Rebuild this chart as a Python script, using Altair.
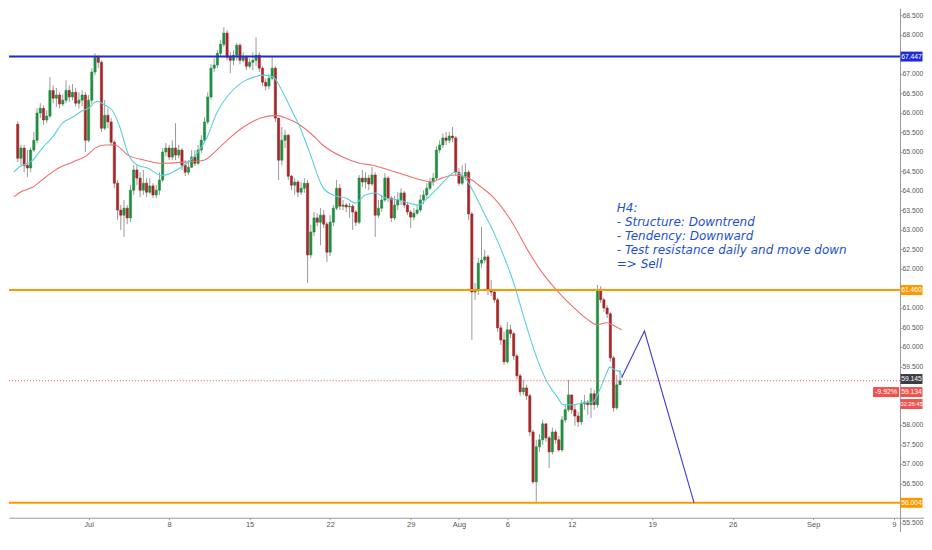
import altair as alt
import pandas as pd

# ---------------- data ----------------
first_open = 65.69
close = [65.77, 65.61, 65.71, 64.84, 65.10, 64.66, 64.59, 65.05, 65.30, 66.00,
         66.12, 65.82, 65.92, 66.58, 66.38, 66.46, 66.23, 66.33, 66.58, 66.41,
         66.53, 66.25, 66.33, 66.46, 65.30, 66.33, 67.05, 67.43, 67.30, 65.61,
         65.94, 65.77, 65.25, 64.20, 63.51, 63.38, 63.56, 63.31, 64.02, 64.54,
         64.33, 64.02, 64.20, 63.97, 64.13, 63.90, 64.02, 64.28, 65.00, 65.10,
         64.87, 65.10, 64.92, 65.05, 64.66, 64.48, 64.61, 64.87, 64.71, 65.05,
         65.30, 65.77, 66.41, 67.15, 67.23, 67.53, 67.76, 68.05, 67.43, 67.35,
         67.48, 67.74, 67.35, 67.43, 67.20, 67.30, 67.35, 67.48, 67.15, 66.79,
         66.69, 66.89, 67.15, 65.87, 64.79, 65.30, 65.43, 64.38, 64.15, 64.23,
         63.97, 64.07, 64.20, 62.36, 62.95, 63.31, 63.20, 63.38, 63.15, 62.43,
         63.20, 63.56, 64.07, 63.61, 63.64, 63.59, 63.61, 63.46, 63.20, 64.33,
         64.23, 64.33, 64.18, 64.41, 63.38, 63.56, 63.77, 64.33, 63.82, 63.31,
         63.64, 63.77, 63.95, 63.64, 63.46, 63.33, 63.43, 63.51, 63.77, 63.90,
         64.07, 64.23, 64.33, 65.05, 65.18, 65.36, 65.30, 65.41, 65.36, 64.48,
         64.20, 64.38, 64.48, 63.41, 61.41, 61.46, 62.15, 62.23, 62.31, 61.46,
         61.41, 61.21, 60.49, 60.18, 59.62, 60.44, 60.34, 59.77, 59.26, 58.85,
         58.95, 58.75, 57.82, 56.54, 57.44, 57.62, 58.03, 57.67, 57.31, 57.82,
         57.62, 57.36, 58.13, 58.39, 58.77, 58.39, 58.23, 58.08, 58.54, 58.59,
         58.52, 58.80, 58.52, 61.46, 61.21, 61.00, 60.85, 59.72, 58.44, 59.03,
         59.134]
high = [65.89, 65.87, 65.87, 65.79, 65.18, 65.18, 65.05, 65.12, 65.51, 66.12,
        66.25, 66.20, 66.07, 66.92, 66.71, 66.64, 66.53, 66.48, 66.84, 66.71,
        66.74, 66.64, 66.53, 66.58, 66.53, 66.46, 67.15, 67.53, 67.48, 67.35,
        66.33, 66.12, 65.87, 65.30, 64.28, 63.64, 63.77, 63.64, 64.15, 64.66,
        64.66, 64.48, 64.54, 64.33, 64.33, 64.20, 64.15, 64.48, 65.10, 65.23,
        65.18, 65.30, 65.74, 65.18, 65.10, 64.79, 64.79, 65.05, 65.05, 65.18,
        65.43, 65.89, 66.53, 67.25, 67.40, 67.61, 67.87, 68.20, 68.12, 67.56,
        67.61, 67.79, 67.79, 67.56, 67.48, 67.40, 67.56, 67.94, 67.56, 67.20,
        66.89, 66.99, 67.43, 67.20, 65.87, 65.64, 65.56, 65.46, 64.41, 64.33,
        64.28, 64.23, 64.33, 64.28, 63.13, 63.46, 63.43, 63.56, 63.51, 63.20,
        63.38, 63.64, 64.28, 64.18, 63.77, 63.69, 63.69, 63.66, 63.51, 64.41,
        64.54, 64.48, 64.41, 64.61, 64.48, 63.77, 63.90, 64.46, 64.38, 63.87,
        63.87, 63.97, 64.07, 64.00, 63.72, 63.51, 63.56, 63.64, 63.90, 64.02,
        64.20, 64.33, 64.46, 65.15, 65.30, 65.48, 65.51, 65.51, 65.64, 65.41,
        64.59, 64.66, 64.71, 64.54, 63.46, 61.64, 62.28, 63.08, 62.49, 62.36,
        61.72, 61.46, 61.26, 60.57, 60.39, 60.64, 60.57, 60.39, 59.82, 59.31,
        59.16, 59.03, 58.80, 57.88, 57.62, 57.77, 58.13, 58.03, 57.72, 57.93,
        57.88, 57.72, 58.23, 58.52, 59.16, 58.77, 58.54, 58.34, 58.64, 58.77,
        58.64, 58.95, 58.90, 61.59, 61.56, 61.26, 61.08, 60.90, 59.77, 59.28,
        59.41]
low = [65.56, 65.48, 65.53, 64.74, 64.66, 64.48, 64.36, 64.48, 65.00, 65.23,
       65.87, 65.69, 65.74, 65.87, 66.25, 66.15, 66.12, 66.17, 66.25, 66.28,
       66.33, 66.17, 66.12, 66.17, 65.00, 65.25, 66.23, 66.97, 67.15, 65.51,
       65.56, 65.61, 65.18, 64.07, 63.25, 63.00, 62.82, 63.15, 63.20, 63.90,
       64.15, 63.84, 63.90, 63.84, 63.92, 63.82, 63.82, 63.90, 64.23, 64.89,
       64.79, 64.79, 64.79, 64.84, 64.54, 64.38, 64.41, 64.59, 64.64, 64.66,
       64.97, 65.25, 65.71, 66.35, 67.05, 67.15, 67.46, 67.69, 67.35, 67.02,
       67.23, 67.35, 67.25, 67.30, 67.10, 67.15, 67.10, 67.20, 67.05, 66.69,
       66.58, 66.61, 66.84, 65.77, 64.28, 64.66, 65.10, 64.28, 64.02, 63.90,
       63.84, 63.90, 63.95, 61.64, 62.28, 62.84, 63.10, 62.61, 63.05, 62.18,
       62.33, 63.10, 63.51, 63.51, 63.51, 63.46, 63.31, 63.00, 63.10, 63.15,
       64.10, 64.07, 64.02, 64.13, 62.82, 63.31, 63.46, 63.72, 63.72, 63.20,
       63.25, 63.51, 63.64, 63.56, 63.38, 63.05, 63.25, 63.38, 63.46, 63.66,
       63.82, 64.02, 64.13, 64.28, 64.97, 65.10, 65.18, 65.23, 65.25, 64.38,
       64.13, 64.15, 64.28, 63.25, 60.18, 61.21, 61.33, 62.03, 62.15, 61.33,
       61.31, 61.13, 60.39, 60.05, 59.54, 59.57, 60.23, 59.67, 59.16, 58.75,
       58.77, 58.64, 57.72, 56.49, 56.03, 57.31, 57.49, 57.57, 56.90, 57.24,
       57.52, 57.31, 57.31, 58.06, 58.34, 58.29, 57.98, 57.95, 58.00, 58.39,
       58.26, 58.18, 58.39, 58.44, 61.13, 60.90, 60.74, 59.62, 58.34, 58.39,
       59.03]

cyan_t = [1.84, 3.4, 7.7, 10.8, 13.8, 16.9, 20.0, 23.4, 24.9, 27.7, 30.1, 32.3,
          34.7, 37.2, 40.3, 43.3, 47.6, 53.8, 58.7, 61.8, 64.8, 67.9, 72.2, 76.2,
          79.3, 82.3, 84.5, 87.6, 90.6, 93.7, 97.7, 100.8, 104.8, 107.9, 110.9,
          114.0, 117.1, 121.4, 124.4, 127.5, 130.6, 133.7, 136.7, 138.6, 141.6,
          144.7, 147.8, 150.9, 154.0, 157.0, 160.1, 164.4, 167.5, 170.5, 172.4,
          175.4, 178.5, 181.6, 183.7, 185.9, 186.8, 188.4, 189.9, 190.8]
cyan_v = [64.49, 64.61, 64.79, 65.12, 65.38, 65.74, 65.89, 66.07, 66.12, 66.30,
          66.20, 66.07, 65.64, 64.97, 64.66, 64.59, 64.40, 64.61, 64.97, 65.38,
          66.00, 66.41, 66.76, 66.92, 66.97, 66.92, 66.66, 66.15, 65.64, 64.97,
          64.10, 63.90, 63.82, 63.69, 63.90, 63.95, 63.82, 63.77, 63.69, 63.64,
          63.84, 64.10, 64.36, 64.48, 64.36, 63.95, 63.43, 62.92, 62.31, 61.64,
          60.77, 59.67, 59.08, 58.72, 58.52, 58.52, 58.57, 58.59, 58.90, 59.34,
          59.49, 59.41, 59.36, 59.23]
red_t = [1.84, 3.4, 7.7, 11.7, 15.7, 20.0, 24.6, 27.0, 30.1, 33.2, 37.2, 42.4, 47.6,
         54.7, 60.8, 64.8, 69.1, 74.1, 78.4, 83.0, 86.3, 90.6, 94.6, 97.7, 103.9,
         109.1, 113.1, 118.3, 123.2, 128.4, 131.5, 134.6, 138.6, 142.9, 146.9,
         150.9, 156.1, 161.3, 165.3, 170.5, 175.4, 179.7, 182.8, 185.9, 187.5, 190.5]
red_v = [63.85, 63.95, 64.10, 64.36, 64.59, 64.74, 64.92, 65.10, 65.18, 65.18, 64.92,
         64.79, 64.71, 64.74, 64.79, 65.05, 65.38, 65.69, 65.87, 65.94, 65.87, 65.69,
         65.43, 65.18, 64.87, 64.71, 64.66, 64.54, 64.41, 64.28, 64.23, 64.33, 64.41,
         64.33, 64.10, 63.82, 63.25, 62.49, 61.97, 61.44, 61.03, 60.72, 60.57, 60.62,
         60.57, 60.44]
proj_t = [190.5, 197.6, 213.0]
proj_v = [59.21, 60.41, 56.00]

res_level = 67.447
mid_level = 61.460
sup_level = 56.004
last_price = 59.134

# price labels that the reference shows (others are hidden behind price tags)
y_ticks = [55.5, 56.5, 57.0, 57.5, 58.0, 59.5, 60.0, 60.5, 61.0, 62.0, 62.5,
           63.0, 63.5, 64.0, 64.5, 65.0, 65.5, 66.0, 66.5, 67.0, 68.0, 68.5]
date_ticks = [25, 50, 75, 100, 125, 140, 155, 175, 200, 225, 250, 275]
date_labels = ["Jul", "8", "15", "22", "29", "Aug", "6", "12", "19", "26", "Sep", "9"]

note_lines = ["H4:", "- Structure: Downtrend", "- Tendency: Downward",
              "- Test resistance daily and move down", "=> Sell"]

tag_text = ["67.447", "61.460", "59.145", "59.134", "02:26:45", "56.004"]
tag_price = [67.447, 61.460, 59.145, 59.134, 59.134, 56.004]
tag_color = ["#1f2bd6", "#ff9800", "#3a3d45", "#ef5350", "#ef5350", "#ff9800"]
tag_dy = [0, 0, -1.3, 11.3, 23.3, 0]

# ---------------- layout ----------------
W, H = 916, 524          # plot area (page x 8..924, page y 8..532)
AX = 892                 # right price axis position inside the plot (page x 900)
XAX_OFF = -14            # time axis drawn inside the plot bottom
x_dom = [1.84, 282.84]
y_dom = [55.263, 68.685]
FIRST_VISIBLE = 3        # candles left of the plot edge are not drawn
xs = alt.Scale(domain=x_dom, nice=False, zero=False)
ys = alt.Scale(domain=y_dom, nice=False, zero=False)
GREEN, RED, WICK = "#1f8f3f", "#a3282a", "#9a9a9a"
FONT = "Liberation Sans"

opens = [first_open] + close[:-1]
candles = pd.DataFrame({"i": list(range(len(close))), "o": opens, "c": close,
                        "h": high, "l": low})

label_expr = " : ".join(f"datum.value == {v} ? '{l}'"
                        for v, l in zip(date_ticks, date_labels)) + " : ''"
x_axis = alt.Axis(values=date_ticks, labelExpr=label_expr, title=None, grid=False,
                  offset=XAX_OFF, domainColor="#9a9a9a", tickColor="#9a9a9a",
                  tickSize=2, labelFont=FONT, labelFontSize=7.5,
                  labelColor="#555555", labelPadding=1)
y_axis = alt.Axis(orient="right", offset=AX - W, values=y_ticks, format=".3f",
                  title=None, grid=False, domainColor="#9a9a9a",
                  tickColor="#9a9a9a", tickSize=2, labelFont=FONT,
                  labelFontSize=6.8, labelColor="#555555", labelPadding=0)


def X(field):
    return alt.X(field, scale=xs, axis=x_axis)


def Y(field):
    return alt.Y(field, scale=ys, axis=y_axis)


base = alt.Chart(candles).transform_filter(f"datum.i >= {FIRST_VISIBLE}")
wicks = base.mark_rule(color=WICK, strokeWidth=1, clip=True).encode(
    x=X("i:Q"), y=Y("l:Q"), y2="h:Q")
color_cond = alt.condition("datum.o <= datum.c", alt.value(GREEN), alt.value(RED))
bodies = base.mark_bar(size=2.2, clip=True, strokeWidth=0.6).encode(
    x=X("i:Q"), y=Y("o:Q"), y2="c:Q", color=color_cond, stroke=color_cond)

cyan_df = pd.DataFrame({"t": cyan_t, "v": cyan_v})
red_df = pd.DataFrame({"t": red_t, "v": red_v})
proj_df = pd.DataFrame({"t": proj_t, "v": proj_v})


def line_layer(df, color, width, interp="monotone"):
    return alt.Chart(df).mark_line(color=color, strokeWidth=width, clip=True,
                                   interpolate=interp).encode(x=X("t:Q"), y=Y("v:Q"))


ma_fast = line_layer(cyan_df, "#5ccfdc", 1.1)
ma_slow = line_layer(red_df, "#ef7070", 1.1)
proj = line_layer(proj_df, "#3b3bd0", 1.1, "linear")


def hline(level, color, width, dash=None):
    kw = dict(color=color, strokeWidth=width)
    if dash:
        kw["strokeDash"] = dash
    return alt.Chart(pd.DataFrame({"p": [level]})).mark_rule(**kw).encode(
        y=Y("p:Q"), x=alt.value(0), x2=alt.value(AX))


last_line = hline(last_price, "#ef5350", 1, [1, 2])
res_line = hline(res_level, "#1f2bd6", 2)
mid_line = hline(mid_level, "#ff9800", 2)
sup_line = hline(sup_level, "#ff9800", 2)

note = alt.Chart(pd.DataFrame({"t": [189.0], "v": [63.69],
                               "txt": ["\n".join(note_lines)]})).mark_text(
    align="left", baseline="top", lineBreak="\n", lineHeight=14, font="DejaVu Sans",
    fontSize=12, fontStyle="italic", color="#1e4fd0"
).encode(x=X("t:Q"), y=Y("v:Q"), text="txt:N")


def box_path(w, h):
    r = h / w
    return f"M-1,-{r:.4f}L1,-{r:.4f}L1,{r:.4f}L-1,{r:.4f}Z"


TAG_W, TAG_H = 22, 10
tag_layers = []
for txt, p, col, dy in zip(tag_text, tag_price, tag_color, tag_dy):
    tdf = pd.DataFrame({"p": [p], "txt": [txt]})
    cx = AX + 0.5 + TAG_W / 2
    tag_layers.append(
        alt.Chart(tdf).mark_point(
            shape=box_path(TAG_W, TAG_H), size=TAG_W * TAG_W, filled=True,
            opacity=1, color=col, yOffset=dy).encode(x=alt.value(cx), y=Y("p:Q")))
    tag_layers.append(
        alt.Chart(tdf).mark_text(
            color="white", font=FONT, fontSize=5.8 if ":" in txt else 6.8,
            align="center", baseline="middle", dy=dy).encode(
            x=alt.value(cx), y=Y("p:Q"), text="txt:N"))

pct_text = ["-9.92%"]
pdf = pd.DataFrame({"p": [last_price], "txt": pct_text})
pct_box = alt.Chart(pdf).mark_point(
    shape=box_path(26, TAG_H), size=26 * 26, filled=True, opacity=1,
    color="#ef5350", yOffset=11.3).encode(x=alt.value(AX - 14), y=Y("p:Q"))
pct_lbl = alt.Chart(pdf).mark_text(
    color="white", font=FONT, fontSize=7, align="center", baseline="middle",
    dy=11.3).encode(x=alt.value(AX - 14), y=Y("p:Q"), text="txt:N")

chart = alt.layer(
    wicks, bodies, ma_slow, ma_fast, last_line, res_line, mid_line, sup_line,
    proj, note, pct_box, pct_lbl, *tag_layers
).properties(
    width=W, height=H, padding=0, background="white",
).configure_view(stroke=None)

chart.save("out.html", embed_options={"renderer": "svg", "actions": False})
